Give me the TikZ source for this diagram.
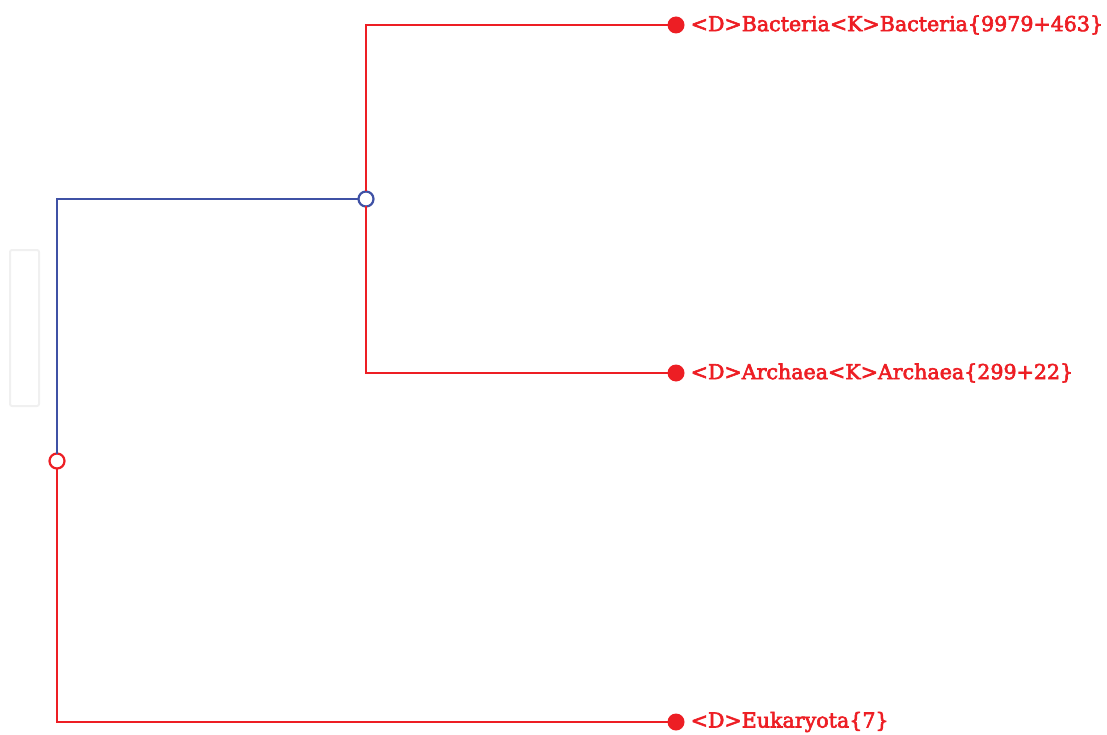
\documentclass[tikz,border=0pt]{standalone}
\usepackage{fontspec}
\setmainfont{DejaVu Serif}
\usetikzlibrary{positioning}

\definecolor{treered}{RGB}{237,30,36}
\definecolor{treeblue}{RGB}{63,81,165}

\begin{document}
\begin{tikzpicture}[x=1pt,y=-1pt,
	branch/.style={line width=2.2pt},
	split/.style={draw,circle,fill=white,line width=2.2pt,inner sep=0,outer sep=0,minimum size=15pt},
	leaf/.style={circle,fill=treered,inner sep=0,outer sep=0,minimum size=17pt},
	taxon/.style={text=treered,inner sep=0,font=\fontsize{20.6}{24}\selectfont\addfontfeature{FakeBold=3}}]
	\useasboundingbox (0,0) rectangle (1107,735);
	\draw[rounded corners=2pt,draw=black!6,line width=2pt] (10,250) rectangle (39,406);
	\node[split,draw=treered] (root) at (57,461) {};
	\node[split,draw=treeblue] (cell) at (366,199) {};
	\node[leaf] (bact) at (676,25) {};
	\node[leaf] (arch) at (676,373) {};
	\node[leaf] (euk) at (676,722) {};
	\node[taxon,right=6pt of bact] (bactname) {<D>Bacteria<K>Bacteria\{9979+463\}};
	\node[taxon,right=6pt of arch] (archname) {<D>Archaea<K>Archaea\{299+22\}};
	\node[taxon,right=6pt of euk] (eukname) {<D>Eukaryota\{7\}};
	\draw[branch,treeblue] (root) |- (cell);
	\draw[branch,treered] (cell) |- (bact);
	\draw[branch,treered] (cell) |- (arch);
	\draw[branch,treered] (root) |- (euk);
\end{tikzpicture}
\end{document}
